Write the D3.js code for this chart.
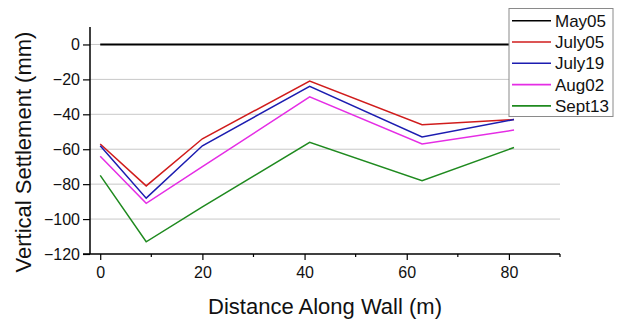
<!DOCTYPE html>
<html>
<head>
<meta charset="utf-8">
<script src="https://cdn.jsdelivr.net/npm/d3@7/dist/d3.min.js"></script>
<style>
  html, body { margin: 0; padding: 0; background: #fff; }
  svg { display: block; font-family: "Liberation Sans", Arial, sans-serif; }
</style>
</head>
<body>
<svg id="chart" width="619" height="320"></svg>
<script>
// ---- data ----
const distances = [0, 9, 20, 41, 63, 81];
const seriesNames = ["May05", "July05", "July19", "Aug02", "Sept13"];
const may05  = [0, 0, 0, 0, 0, 0];
const july05 = [-57, -81, -54, -21, -46, -43];
const july19 = [-58, -88, -58, -24, -53, -43];
const aug02  = [-64, -91, -70, -30, -57, -49];
const sept13 = [-75, -113, -93, -56, -78, -59];
const seriesColors = ["#000000", "#d01c1c", "#1c1cb0", "#e52de5", "#1f8a1f"];
const xMajorTicks = [0, 20, 40, 60, 80];
const xMinorTicks = [10, 30, 50, 70, 90];
const yTicks = [0, -20, -40, -60, -80, -100, -120];
const xTitle = "Distance Along Wall (m)";
const yTitle = "Vertical Settlement (mm)";

const seriesValues = [may05, july05, july19, aug02, sept13];

// ---- layout ----
const svg = d3.select("#chart");
const plotLeft = 90, plotRight = 560, plotTop = 27, plotBottom = 254;

const x = d3.scaleLinear().domain([-2, 90]).range([plotLeft, plotRight]);
const y = d3.scaleLinear().domain([-120, 10]).range([plotBottom, plotTop]);

// gridlines
svg.append("g")
  .selectAll("line")
  .data(yTicks.filter(d => d !== -120))
  .join("line")
  .attr("x1", plotLeft).attr("x2", plotRight)
  .attr("y1", d => y(d)).attr("y2", d => y(d))
  .attr("stroke", "#c8c8c8").attr("stroke-width", 1);

// lines
const line = d3.line()
  .x((d, i) => x(distances[i]))
  .y(d => y(d));

svg.append("g")
  .selectAll("path")
  .data(seriesValues)
  .join("path")
  .attr("d", d => line(d))
  .attr("fill", "none")
  .attr("stroke", (d, i) => seriesColors[i])
  .attr("stroke-width", (d, i) => i === 0 ? 2 : 1.5)
  .attr("stroke-linejoin", "miter");

// x axis
const xAxis = svg.append("g").attr("transform", `translate(0,${plotBottom})`);
xAxis.call(d3.axisBottom(x).tickValues(xMajorTicks).tickSize(6).tickPadding(7).tickFormat(d3.format("d")));
xAxis.append("g").selectAll("line").data(xMinorTicks).join("line")
  .attr("x1", d => x(d)).attr("x2", d => x(d))
  .attr("y1", 0).attr("y2", 3).attr("stroke", "#000").attr("stroke-width", 1.2);
xAxis.select(".domain").attr("d", `M${plotLeft - 7},0H${plotRight}`).attr("stroke-width", 1.5);
xAxis.selectAll(".tick line").attr("stroke-width", 1.2);
xAxis.selectAll(".tick text").attr("font-size", 16).attr("fill", "#111").attr("font-family", "Liberation Sans, Arial, sans-serif");

// y axis
const yAxis = svg.append("g").attr("transform", `translate(${plotLeft},0)`);
yAxis.call(d3.axisLeft(y).tickValues(yTicks).tickSize(7).tickPadding(3).tickFormat(d3.format("d")));
yAxis.select(".domain").attr("d", `M0,${plotTop}V${plotBottom}`).attr("stroke-width", 1.5);
yAxis.selectAll(".tick line").attr("stroke-width", 1.2);
yAxis.selectAll(".tick text").attr("font-size", 16).attr("fill", "#111").attr("font-family", "Liberation Sans, Arial, sans-serif");

// titles
svg.append("text")
  .attr("x", 325).attr("y", 314)
  .attr("text-anchor", "middle")
  .attr("font-size", 22).attr("fill", "#111")
  .text(xTitle);

svg.append("text")
  .attr("transform", "translate(31,152) rotate(-90)")
  .attr("text-anchor", "middle")
  .attr("font-size", 22).attr("fill", "#111")
  .text(yTitle);

// legend
const legend = svg.append("g");
legend.append("rect")
  .attr("x", 509).attr("y", 8.5).attr("width", 104).attr("height", 108)
  .attr("fill", "#fff").attr("stroke", "#8a8a8a").attr("stroke-width", 1);
const rows = legend.selectAll("g.row").data(seriesNames).join("g")
  .attr("class", "row")
  .attr("transform", (d, i) => `translate(0,${20.7 + i * 21.3})`);
rows.append("line")
  .attr("x1", 512).attr("x2", 551).attr("y1", 0).attr("y2", 0)
  .attr("stroke", (d, i) => seriesColors[i]).attr("stroke-width", 1.6);
rows.append("text")
  .attr("x", 555).attr("y", 6)
  .attr("font-size", 17).attr("fill", "#111")
  .text(d => d);
</script>
</body>
</html>
